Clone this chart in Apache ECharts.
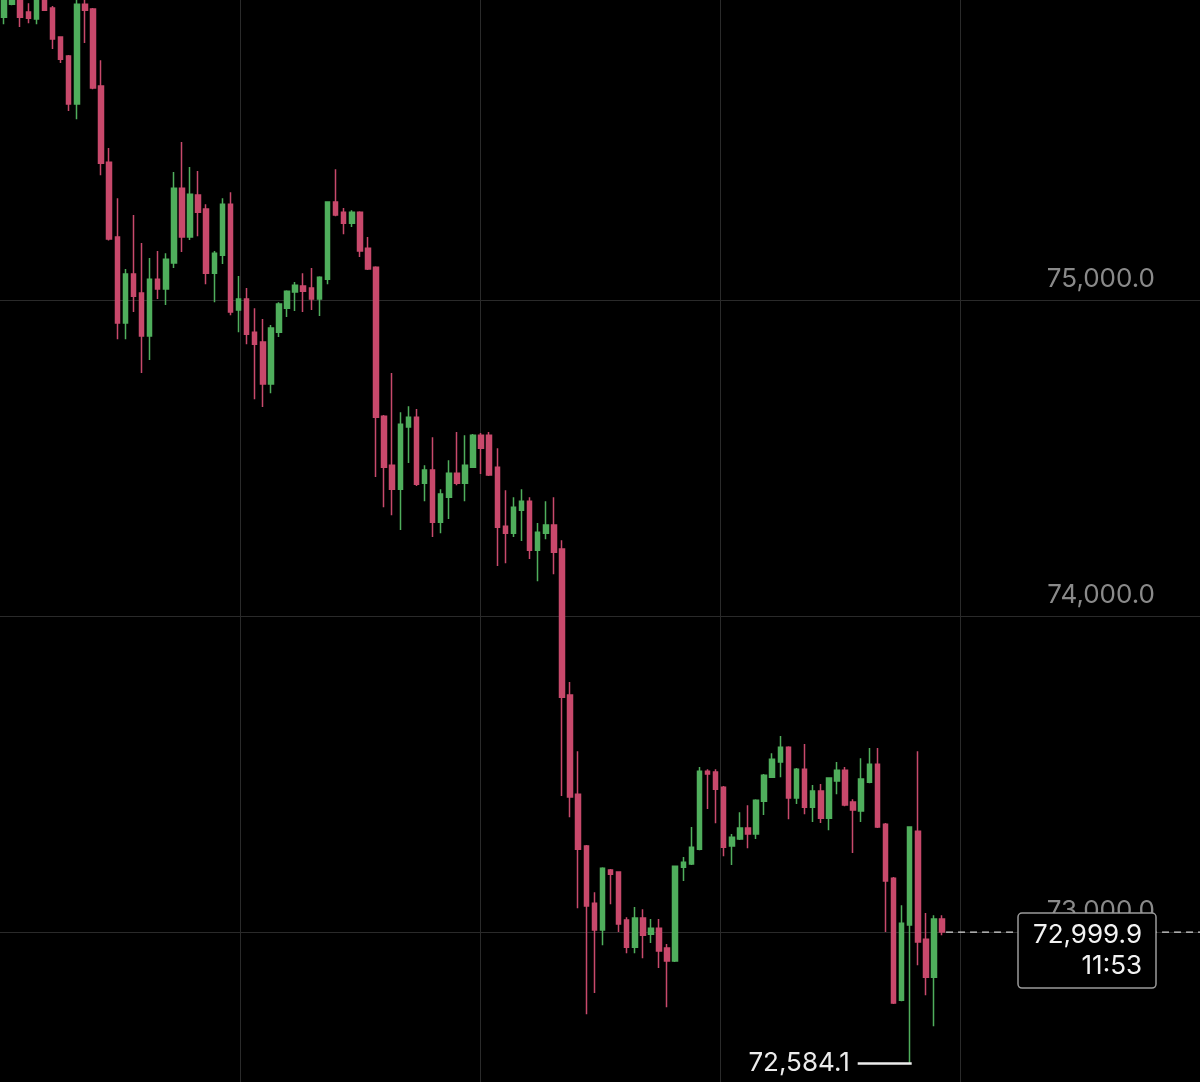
<!DOCTYPE html>
<html>
<head>
<meta charset="utf-8">
<script src="https://cdn.jsdelivr.net/npm/echarts@6/dist/echarts.min.js"></script>
<style>
html,body{margin:0;padding:0;background:#000;}
#c{width:1200px;height:1082px;}
</style>
</head>
<body>
<div id="c"></div>
<script>
// ---- data ----
const opens = [75895,75936,75965,75911,75889,75981,75924,75832,75772,75620,
75936,75921,75677,75436,75199,74927,75082,75022,74886,75066,
75035,75117,75354,75199,75332,75288,75085,75142,75303,74968,
75003,74898,74867,74734,74898,74974,75025,75044,75038,75003,
75066,75310,75278,75243,75278,75164,75104,74632,74477,74401,
74598,74629,74420,74462,74297,74376,74452,74420,74471,74572,
74572,74471,74284,74262,74335,74363,74208,74262,74288,74212,
73750,73436,73272,73091,73006,73196,73190,73038,72952,73044,
72993,73012,72949,72908,73205,73215,73262,73509,73506,73458,
73272,73294,73329,73310,73414,73490,73538,73585,73424,73515,
73395,73446,73360,73478,73512,73411,73383,73474,73531,73341,
73170,72784,73022,73319,72977,72857,73041];
const closes = [75974,75955,75895,75892,75965,75917,75826,75762,75620,75936,
75917,75671,75433,75193,74927,75082,75012,74886,75066,75035,
75129,75354,75199,75335,75278,75085,75148,75303,74962,75003,
74892,74860,74734,74911,74987,75028,75047,75028,75003,75072,
75310,75269,75243,75278,75155,75098,74629,74471,74401,74607,
74629,74417,74462,74297,74386,74452,74420,74477,74572,74531,
74446,74281,74262,74344,74363,74208,74265,74288,74202,73743,
73427,73262,73082,73006,73202,73183,73025,72952,73044,72990,
73012,72940,72908,73208,73221,73268,73509,73500,73452,73268,
73300,73329,73310,73417,73496,73547,73585,73424,73515,73395,
73446,73360,73487,73512,73402,73386,73484,73531,73332,73161,
72775,73028,73332,72968,72857,73041,72999.9];
const lows = [75873,75933,75864,75876,75873,75915,75794,75750,75598,75572,
75813,75667,75395,75188,74876,74876,74962,74769,74810,75003,
74984,75101,75152,75190,75202,75050,74993,75114,74952,74898,
74860,74686,74661,74705,74883,74946,74965,74962,74968,74949,
75050,75265,75208,75231,75136,75095,74440,74344,74319,74272,
74484,74411,74363,74250,74262,74307,74414,74363,74468,74449,
74443,74158,74167,74250,74237,74180,74110,74243,74132,73430,
73363,73075,72740,72807,72958,73088,73000,72933,72933,72917,
72965,72886,72762,72905,73161,73212,73259,73389,73344,73240,
73212,73291,73265,73294,73370,73487,73490,73357,73405,73373,
73348,73345,73322,73436,73398,73250,73348,73471,73329,73000,
72772,72781,72584.1,72895,72800,72702,72990];
const highs = [75993,75968,75981,75939,75981,75996,75930,75835,75775,75949,
75949,75924,75759,75481,75322,75098,75269,75180,75133,75155,
75148,75405,75500,75421,75408,75303,75155,75322,75341,75076,
75038,74974,74940,74921,74993,75031,75057,75085,75101,75075,
75312,75414,75291,75284,75281,75199,75107,74636,74769,74645,
74664,74655,74477,74566,74401,74493,74582,74572,74576,74579,
74582,74531,74398,74376,74401,74376,74294,74363,74376,74240,
73791,73572,73275,73126,73205,73199,73192,73047,73079,73072,
73041,73041,72962,73210,73237,73332,73522,73515,73515,73462,
73310,73379,73401,73420,73500,73566,73620,73588,73519,73595,
73465,73468,73490,73538,73522,73420,73550,73582,73582,73345,
73174,73085,73335,73572,73060,73053,73053];
const countdown = '11:53';
const yTickMin = 72000, yTickMax = 76000, yTickStep = 1000;

// ---- helpers ----
function fmt(v){
  const s = Number(v).toFixed(1);
  const parts = s.split('.');
  return parts[0].replace(/\B(?=(\d{3})+(?!\d))/g, ',') + '.' + parts[1];
}
const UP = '#4fae5c', DOWN = '#c8496b';
const FONT = 'Inter, "Liberation Sans", Arial, sans-serif';

const candleData = opens.map((o, i) => [i, o, closes[i], lows[i], highs[i]]);

const chart = echarts.init(document.getElementById('c'), null, {renderer: 'canvas'});
const option = {
  backgroundColor: '#000',
  animation: false,
  grid: {left: 0, right: 0, top: -16, bottom: -166, containLabel: false, outerBoundsMode: 'none'},
  xAxis: [
    {type: 'value', min: -0.5, max: 147.9, show: false, splitLine: {show: false}},
    {type: 'value', min: 0, max: 5, interval: 1, position: 'bottom',
     axisLine: {show: false}, axisTick: {show: false}, axisLabel: {show: false},
     splitLine: {show: true, showMinLine: false, showMaxLine: false, lineStyle: {color: '#2a2a2a', width: 1}}}
  ],
  yAxis: {
    type: 'value', position: 'right', min: yTickMin, max: yTickMax, interval: yTickStep,
    axisLine: {show: false}, axisTick: {show: false},
    splitLine: {show: true, lineStyle: {color: '#2a2a2a', width: 1}},
    axisLabel: {
      inside: true, margin: 45, color: '#8a8a8a', fontFamily: FONT, fontSize: 26,
      showMinLabel: false, showMaxLabel: false,
      verticalAlign: 'bottom', lineHeight: 42,
      formatter: v => fmt(v)
    }
  },
  series: [{
    type: 'candlestick',
    xAxisIndex: 0, yAxisIndex: 0,
    encode: {x: 0, y: [1, 2, 3, 4]},
    data: candleData,
    barWidth: 5,
    itemStyle: {color: UP, color0: DOWN, borderColor: UP, borderColor0: DOWN, borderWidth: 1.5},
    emphasis: {disabled: true}
  }]
};
chart.setOption(option);

const last = closes.length - 1;
const lastPx = chart.convertToPixel({xAxisIndex: 0, yAxisIndex: 0}, [last, closes[last]]);
let lowIdx = 0;
lows.forEach((v, i) => { if (v < lows[lowIdx]) lowIdx = i; });
const lowPx = chart.convertToPixel({xAxisIndex: 0, yAxisIndex: 0}, [lowIdx, lows[lowIdx]]);
const W = chart.getWidth();

chart.setOption({
  graphic: [
    {type: 'line', z: 100, shape: {x1: lastPx[0] + 4, y1: lastPx[1], x2: W, y2: lastPx[1]},
     style: {stroke: '#d6d6d6', lineWidth: 1.3, lineDash: [7, 5]}},
    {type: 'rect', z: 101, shape: {x: W - 182, y: lastPx[1] - 19, width: 138, height: 75, r: 4},
     style: {fill: '#000', stroke: '#9a9a9a', lineWidth: 1.5}},
    {type: 'text', z: 102, x: W - 58, y: lastPx[1] + 3,
     style: {text: fmt(closes[last]), fill: '#f2f2f2', fontFamily: FONT, fontSize: 26, align: 'right', verticalAlign: 'middle'}},
    {type: 'text', z: 102, x: W - 58, y: lastPx[1] + 34,
     style: {text: countdown, fill: '#f2f2f2', fontFamily: FONT, fontSize: 26, align: 'right', verticalAlign: 'middle'}},
    {type: 'line', z: 100, shape: {x1: lowPx[0] - 52, y1: lowPx[1], x2: lowPx[0] + 2, y2: lowPx[1]},
     style: {stroke: '#ececec', lineWidth: 2.5}},
    {type: 'text', z: 102, x: lowPx[0] - 60, y: lowPx[1],
     style: {text: fmt(lows[lowIdx]), fill: '#ececec', fontFamily: FONT, fontSize: 26, align: 'right', verticalAlign: 'middle'}}
  ]
});
</script>
</body>
</html>
